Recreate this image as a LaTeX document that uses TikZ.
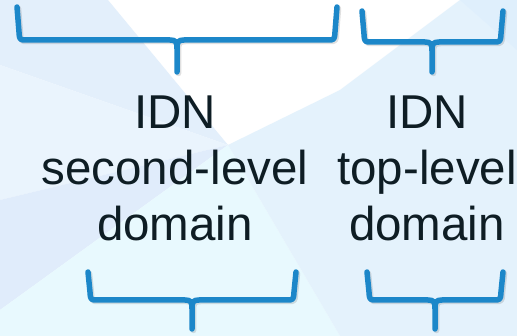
\documentclass[tikz,border=0pt]{standalone}
\usepackage{fontspec}
\setmainfont{Liberation Sans}
\definecolor{bracecol}{HTML}{1C87C9}
\definecolor{inkcol}{HTML}{0E1D24}
\definecolor{facetA}{HTML}{E3EFFB}
\definecolor{facetB}{HTML}{EAF4FD}
\definecolor{facetC}{HTML}{E0ECFB}
\definecolor{facetD}{HTML}{E8F9FE}
\definecolor{facetE}{HTML}{E4F2FC}
\definecolor{facetF}{HTML}{DFEFFC}
\tikzset{
  bracebar/.style={line width=5.5pt, bracecol, line cap=round, line join=round},
  braceshadow/.style={line width=5.5pt, black, opacity=0.12, line cap=round, line join=round},
  domaintext/.style={inner sep=0pt, anchor=north, align=center, inkcol,
    font=\fontsize{47.5}{56}\selectfont}
}
\begin{document}
\begin{tikzpicture}[x=1pt,y=-1pt]
    \useasboundingbox (0,0) rectangle (517,336);
    % background facets
    \fill[white] (0,0) rectangle (517,336);
    \fill[facetA] (0,0) -- (108,0) -- (228,145) -- (0,65) -- cycle;
    \fill[facetB] (0,65) -- (228,145) -- (0,200) -- cycle;
    \fill[facetC] (0,200) -- (228,145) -- (0,310) -- cycle;
    \fill[facetD] (0,310) -- (228,145) -- (340,336) -- (0,336) -- cycle;
    \fill[facetE] (228,145) -- (340,90) -- (460,0) -- (517,0) -- (517,336) -- (340,336) -- cycle;
    \fill[facetF] (460,0) -- (517,0) -- (517,50) -- cycle;
    % braces
    \foreach \xl/\xr/\xm/\yt/\yh/\yb in {17/337/177/7/40/72, 362/503/432/11/42/72, 88/296/192/272/300/329, 367/503/435/272/300/329} {
        \foreach \sty/\dx in {braceshadow/1.5, bracebar/0} {
            \draw[\sty, shift={(\dx,\dx)}]
                (\xl,\yt) -- (\xl+2,\yh-8) .. controls (\xl+2.5,\yh) .. (\xl+10,\yh)
                -- (\xm-7,\yh) .. controls (\xm-1,\yh) and (\xm,\yh+2) .. (\xm,\yh+9) -- (\xm,\yb)
                (\xr,\yt) -- (\xr-2,\yh-8) .. controls (\xr-2.5,\yh) .. (\xr-10,\yh)
                -- (\xm+7,\yh) .. controls (\xm+1,\yh) and (\xm,\yh+2) .. (\xm,\yh+9);
        }
    }
    % labels
    \node[domaintext] (sld) at (175,96) {IDN\\second-level\\domain};
    \node[domaintext] (tld) at (427,96) {IDN\\top-level\\domain};
\end{tikzpicture}
\end{document}
